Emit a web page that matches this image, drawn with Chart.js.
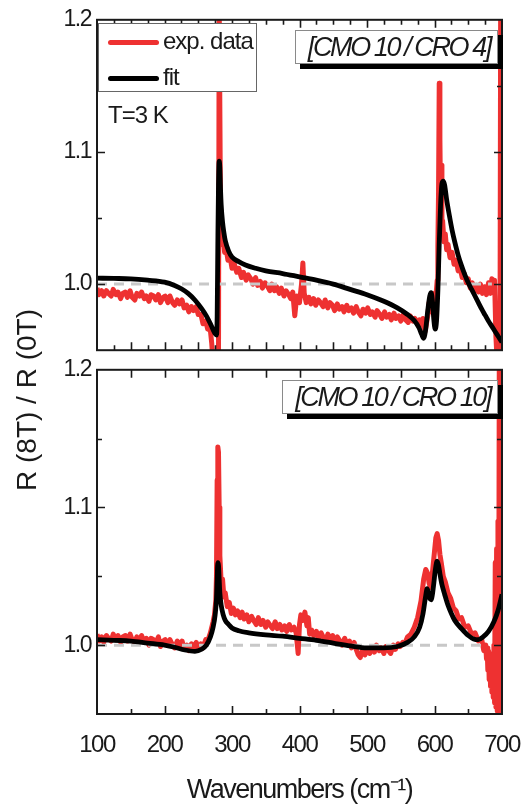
<!DOCTYPE html>
<html>
<head>
<meta charset="utf-8">
<script src="https://cdn.jsdelivr.net/npm/chart.js@4.4.1/dist/chart.umd.min.js"></script>
<style>
  html, body { margin: 0; padding: 0; background: #fff; }
  #wrap { position: relative; width: 526px; height: 808px; overflow: hidden; background: #fff;
          font-family: "Liberation Sans", Arial, sans-serif; color: #1a1a1a; }
  canvas { position: absolute; left: 0; }
  .ann { position: absolute; white-space: nowrap; }
  .lbox { position: absolute; background: #fff; border: 1px solid #8a8a8a; box-shadow: 5px 5px 0 #000;
          font-style: italic; font-size: 27px; letter-spacing: -2.4px; text-align: right;
          box-sizing: border-box; padding-right: 7px; }
</style>
</head>
<body>
<div id="wrap">
  <canvas id="c1" width="526" height="370" style="top:0"></canvas>
  <canvas id="c2" width="526" height="458" style="top:350px"></canvas>

  <div id="ytitle" class="ann" style="left:27px;top:400px;font-size:28px;transform:translate(-50%,-50%) rotate(-90deg);"></div>

  <div id="legend" style="position:absolute;left:98px;top:23px;width:159px;height:69px;box-sizing:border-box;border:1px solid #666;background:#fff;">
    <div style="position:absolute;left:9px;top:16px;width:51px;height:5px;border-radius:3px;background:#ee3131"></div>
    <div id="lg0" class="ann" style="left:64px;top:5px;font-size:24px;line-height:24px;letter-spacing:-1px"></div>
    <div style="position:absolute;left:9px;top:52px;width:51px;height:5px;border-radius:3px;background:#000"></div>
    <div id="lg1" class="ann" style="left:64px;top:41px;font-size:24px;line-height:24px;letter-spacing:-1px"></div>
  </div>

  <div id="tlabel" class="ann" style="left:108px;top:103px;font-size:24px;line-height:24px;letter-spacing:-1px"></div>

  <div id="box1" class="lbox" style="left:295px;top:30px;width:203px;height:34px;line-height:33px"></div>
  <div id="box2" class="lbox" style="left:282px;top:380px;width:216px;height:34px;line-height:33px"></div>
</div>

<script>
// ---------------- data ----------------
const seriesNames = ['exp. data', 'fit'];
const panelLabels = ['[CMO 10 / CRO 4]', '[CMO 10 / CRO 10]'];
const tempLabel = 'T=3 K';
const xTitle = 'Wavenumbers (cm\u207B\u00B9)';
const yTitle = 'R (8T) / R (0T)';

const xTickLabels = [100, 200, 300, 400, 500, 600, 700];
const yTickLabels = [1.0, 1.1, 1.2];

// inward tick-mark positions
const xTicks25 = [125,150,175,200,225,250,275,300,325,350,375,400,425,450,475,500,525,550,575,600,625,650,675];
const xTicks50 = [150,200,250,300,350,400,450,500,550,600,650];
const xTicks100 = [200,300,400,500,600];
const yMajorTicks = [1.0, 1.1];
const yMinorTicks = [1.05, 1.15];

// reference line (R ratio = 1)
const refTopX = [100, 685], refTopY = [1, 1];
const refBotX = [100, 675], refBotY = [1, 1];

// ---- top panel [CMO 10 / CRO 4] : experimental data ----
const topExpX = [100,103,107,110,114,117,121,124,128,131,135,138,142,145,149,152,156,159,163,166,170,173,177,180,184,187,191,194,198,
  201,205,208,212,215,219,222,226,229,233,236,240,243,247,250,254,257,261,264,268,270,272,275,278,280,281,282,
  283,285,287,289,291,294,297,300,303,307,310,314,317,321,324,328,331,335,338,342,345,349,352,356,359,363,366,370,373,377,380,384,387,390,393,396,
  400,403,405,407,410,414,417,421,424,428,431,435,438,442,445,449,452,456,459,463,466,470,473,477,480,484,487,491,494,498,
  501,505,508,512,515,519,522,526,529,533,536,540,543,547,550,554,557,561,564,568,571,575,578,581,583,586,588,590,592,594,596,598,
  600,602,604,605,606,607,608,609,610,611,612,614,616,618,620,623,626,629,632,635,638,641,644,647,650,653,656,659,662,665,668,
  671,674,677,680,683,685,687,689,691,693,695,697,698,700];
const topExpY = [0.997,0.992,0.995,0.991,0.995,0.993,0.991,0.996,0.992,0.994,0.989,0.993,0.994,0.990,0.995,0.990,0.988,0.993,0.991,0.994,0.989,0.991,0.987,0.992,0.991,0.988,0.992,0.986,0.990,
  0.991,0.986,0.991,0.986,0.984,0.988,0.985,0.988,0.982,0.984,0.979,0.983,0.980,0.983,0.977,0.977,0.970,0.972,0.966,0.965,0.955,0.940,0.940,0.940,0.940,1.215,1.215,
  1.050,1.030,1.036,1.024,1.028,1.018,1.021,1.012,1.016,1.009,1.012,1.005,1.009,1.003,1.007,1.004,1.000,1.005,0.999,1.002,0.997,1.001,0.999,0.995,1.000,0.995,0.998,0.993,0.997,0.991,0.995,0.992,0.989,0.994,0.976,0.991,
  0.986,1.000,1.016,0.993,0.986,0.990,0.985,0.989,0.984,0.988,0.986,0.983,0.988,0.982,0.986,0.984,0.980,0.985,0.981,0.983,0.979,0.984,0.980,0.982,0.978,0.983,0.979,0.976,0.981,0.978,
  0.982,0.977,0.979,0.975,0.980,0.977,0.974,0.979,0.975,0.977,0.973,0.978,0.974,0.976,0.972,0.977,0.973,0.971,0.976,0.972,0.974,0.970,0.973,0.969,0.974,0.964,0.970,0.976,0.986,0.979,0.990,0.983,
  0.993,0.990,1.003,1.030,1.070,1.152,1.110,1.060,1.090,1.045,1.048,1.032,1.038,1.026,1.030,1.020,1.024,1.015,1.018,1.010,1.012,1.005,1.008,1.001,1.004,0.997,1.001,0.995,0.999,0.994,1.000,
  0.993,0.998,0.992,1.001,0.993,1.004,0.994,1.003,0.960,0.940,0.940,0.940,1.215,1.215];

// ---- top panel : fit ----
const topFitX = [100,125,150,175,200,215,225,235,245,255,262,268,272,275,277,278,279,280,281,282,283,284,286,288,290,295,
  300,310,320,335,350,375,400,425,450,475,500,525,545,560,570,577,581,584,587,590,593,595,597,599,601,603,605,607,609,611,613,615,
  618,622,626,630,635,640,645,650,655,660,665,670,675,680,685,690,695,700];
const topFitY = [1.0045,1.0043,1.0040,1.0030,1.0015,0.9990,0.9965,0.9930,0.9880,0.9815,0.9760,0.9700,0.9655,0.9625,0.9615,0.9750,1.0300,1.0750,1.0930,1.0880,1.0720,1.0600,1.0470,1.0390,1.0330,1.0250,
  1.0205,1.0170,1.0145,1.0120,1.0100,1.0080,1.0055,1.0030,1.0000,0.9960,0.9920,0.9870,0.9820,0.9770,0.9725,0.9670,0.9620,0.9590,0.9660,0.9800,0.9910,0.9935,0.9870,0.9730,0.9660,0.9720,0.9950,1.0300,1.0600,1.0760,1.0780,1.0750,
  1.0640,1.0520,1.0410,1.0320,1.0220,1.0140,1.0070,1.0010,0.9960,0.9910,0.9860,0.9810,0.9765,0.9720,0.9680,0.9640,0.9600,0.9560];

// ---- bottom panel [CMO 10 / CRO 10] : experimental data ----
const botExpX = [100,103,107,110,114,117,121,124,128,131,135,138,142,145,149,152,156,159,163,166,170,173,177,180,184,187,191,194,198,
  201,205,208,212,215,219,222,226,229,233,236,240,243,247,250,254,257,261,264,268,272,274,276,277,278,279,280,281,282,
  284,286,288,290,293,296,299,302,305,308,312,315,318,322,325,329,332,336,339,343,346,350,353,357,360,364,367,371,374,378,381,385,388,392,395,398,
  400,402,405,408,411,413,415,418,421,425,428,432,435,439,442,446,449,453,456,460,463,467,470,474,477,481,484,487,490,493,497,
  500,504,507,511,514,518,521,525,528,532,535,539,542,546,549,553,556,560,565,570,575,580,584,587,590,592,594,596,598,
  600,602,604,606,608,610,613,616,620,624,628,632,636,640,645,650,655,660,665,670,673,676,677,678,679,680,681,682,683,684,685,686,687,688,689,
  690,691,692,693,694,695,696,697,698,699,700];
const botExpY = [1.008,1.003,1.006,1.002,1.007,1.005,1.003,1.008,1.004,1.007,1.002,1.006,1.007,1.003,1.008,1.004,1.002,1.006,1.004,1.007,1.002,1.005,1.000,1.005,1.004,1.001,1.006,0.999,1.003,
  1.004,1.000,1.004,1.000,0.998,1.003,1.000,1.003,0.998,1.000,0.996,1.001,0.998,1.002,0.998,1.001,0.998,1.004,1.003,1.009,1.017,1.022,1.032,1.050,1.120,1.144,1.140,1.100,1.065,
  1.045,1.048,1.035,1.038,1.028,1.031,1.023,1.027,1.022,1.025,1.020,1.024,1.019,1.022,1.017,1.021,1.018,1.015,1.020,1.015,1.018,1.013,1.017,1.014,1.012,1.017,1.012,1.015,1.011,1.014,1.010,1.015,1.011,1.013,1.009,0.994,
  1.015,1.022,1.018,1.024,1.014,1.020,1.008,1.011,1.007,1.010,1.005,1.009,1.006,1.003,1.008,1.004,1.007,1.002,1.006,1.003,1.000,1.005,1.001,1.003,0.998,1.002,0.997,0.993,0.991,0.996,0.993,
  0.997,0.994,0.999,0.995,1.000,0.996,0.998,0.994,0.999,0.996,0.994,1.000,0.997,1.001,0.999,1.002,1.001,1.006,1.008,1.013,1.020,1.032,1.048,1.055,1.052,1.045,1.042,1.048,1.058,
  1.068,1.078,1.081,1.076,1.066,1.060,1.050,1.046,1.038,1.034,1.027,1.025,1.019,1.020,1.013,1.014,1.008,1.009,1.003,1.004,0.996,1.000,0.990,0.998,0.982,0.996,0.975,0.994,0.970,0.992,0.966,0.990,0.962,1.000,0.958,
  1.060,0.955,1.070,0.952,1.090,0.950,1.215,0.945,1.215,0.945,1.215];

// ---- bottom panel : fit ----
const botFitX = [100,125,150,175,200,215,230,245,255,262,268,272,275,277,278,279,280,281,282,284,287,290,295,
  300,310,325,350,375,400,425,450,475,500,525,545,560,570,578,583,587,589,591,593,595,597,599,601,603,604,606,608,611,615,
  620,625,630,640,650,658,665,672,680,688,694,700];
const botFitY = [1.0040,1.0035,1.0030,1.0015,1.0000,0.9985,0.9965,0.9955,0.9970,1.0000,1.0060,1.0130,1.0220,1.0340,1.0480,1.0600,1.0580,1.0480,1.0380,1.0290,1.0220,1.0180,1.0150,
  1.0125,1.0105,1.0090,1.0075,1.0065,1.0050,1.0035,1.0015,0.9995,0.9980,0.9980,0.9990,1.0020,1.0060,1.0130,1.0230,1.0360,1.0410,1.0380,1.0340,1.0330,1.0370,1.0450,1.0540,1.0600,1.0610,1.0580,1.0520,1.0440,1.0370,
  1.0290,1.0230,1.0180,1.0120,1.0070,1.0045,1.0040,1.0060,1.0100,1.0170,1.0250,1.0370];

// ---------------- rendering ----------------
document.getElementById('ytitle').textContent = yTitle;
document.getElementById('lg0').textContent = seriesNames[0];
document.getElementById('lg1').textContent = seriesNames[1];
document.getElementById('tlabel').textContent = tempLabel;
document.getElementById('box1').textContent = panelLabels[0];
document.getElementById('box2').textContent = panelLabels[1];

Chart.defaults.font.family = '"Liberation Sans", Arial, sans-serif';
Chart.defaults.color = '#1a1a1a';

const RED = '#ee3131';
const toXY = (xs, ys) => xs.map((x, i) => ({ x: x, y: ys[i] }));

const framePlugin = {
  id: 'frame',
  beforeDraw(chart) { chart.ctx.letterSpacing = '-1.5px'; },
  afterDatasetsDraw(chart, _args, o) {
    const { ctx, chartArea: a, scales: { x, y } } = chart;
    ctx.save();
    ctx.strokeStyle = '#1a1a1a';
    ctx.lineWidth = 1.6;
    ctx.beginPath();
    const vtick = (vals, edge, dir, len) => vals.forEach(v => {
      const px = Math.round(x.getPixelForValue(v)) + 0.5;
      ctx.moveTo(px, edge); ctx.lineTo(px, edge + dir * len);
    });
    vtick(o.topMajor || [], a.top, 1, 8);
    vtick(o.topMinor || [], a.top, 1, 5);
    vtick(o.botMajor || [], a.bottom, -1, 8);
    vtick(o.botMinor || [], a.bottom, -1, 5);
    const htick = (vals, len) => vals.forEach(v => {
      const py = Math.round(y.getPixelForValue(v)) + 0.5;
      ctx.moveTo(a.left, py); ctx.lineTo(a.left + len, py);
      ctx.moveTo(a.right, py); ctx.lineTo(a.right - len, py);
    });
    htick(yMajorTicks, 8);
    htick(yMinorTicks, 5);
    ctx.stroke();
    ctx.lineWidth = 2;
    ctx.strokeRect(a.left, a.top, a.right - a.left, a.bottom - a.top);
    ctx.restore();
  }
};

function yLabel(v) {
  const hit = yTickLabels.find(t => Math.abs(t - v) < 1e-6);
  return hit === undefined ? '' : hit.toFixed(1);
}

function makeChart(id, expX, expY, fitX, fitY, refX, refY, opts) {
  return new Chart(document.getElementById(id), {
    type: 'line',
    data: {
      datasets: [
        { label: seriesNames[1], data: toXY(fitX, fitY), borderColor: '#000', borderWidth: 4.8,
          pointRadius: 0, cubicInterpolationMode: 'monotone', order: 0, clip: 0 },
        { label: 'ref', data: toXY(refX, refY), borderColor: '#c8c8c8', borderWidth: 3,
          borderDash: [10, 7], pointRadius: 0, order: 1, clip: 0 },
        { label: seriesNames[0], data: toXY(expX, expY), borderColor: RED, borderWidth: 5,
          borderJoinStyle: 'round', pointRadius: 0, tension: 0, order: 2, clip: 0 }
      ]
    },
    options: {
      responsive: false,
      animation: false,
      devicePixelRatio: 1,
      layout: { padding: opts.padding },
      plugins: { legend: { display: false }, tooltip: { enabled: false }, frame: opts.frame },
      scales: {
        x: opts.x,
        y: {
          type: 'linear', min: 0.95, max: 1.2,
          afterFit(s) { s.width = 97; },
          grid: { display: false, drawTicks: false },
          border: { display: false },
          ticks: { stepSize: 0.05, autoSkip: false, padding: 6, color: '#1a1a1a',
                   font: { size: 23 }, callback: v => yLabel(v) }
        }
      }
    },
    plugins: [framePlugin]
  });
}

makeChart('c1', topExpX, topExpY, topFitX, topFitY, refTopX, refTopY, {
  padding: { top: 17, right: 24, bottom: 5, left: 0 },
  frame: { topMajor: xTicks100, topMinor: xTicks25, botMajor: xTicks50, botMinor: xTicks25 },
  x: { type: 'linear', min: 100, max: 700, display: false }
});

makeChart('c2', botExpX, botExpY, botFitX, botFitY, refBotX, refBotY, {
  padding: { top: 19, right: 24, bottom: 0, left: 0 },
  frame: { topMajor: xTicks50, topMinor: [], botMajor: xTicks100, botMinor: xTicks50 },
  x: {
    type: 'linear', min: 100, max: 700,
    afterFit(s) { s.height = 94; s.paddingLeft = 0; s.paddingRight = 0; },
    grid: { display: false, drawTicks: false },
    border: { display: false },
    ticks: { stepSize: 100, autoSkip: false, maxRotation: 0, padding: 17, color: '#1a1a1a',
             font: { size: 24 }, callback: v => (xTickLabels.includes(v) ? String(v) : '') },
    title: { display: true, text: xTitle, color: '#1a1a1a', font: { size: 27 }, padding: { top: 2, bottom: 1 } }
  }
});
</script>
</body>
</html>
